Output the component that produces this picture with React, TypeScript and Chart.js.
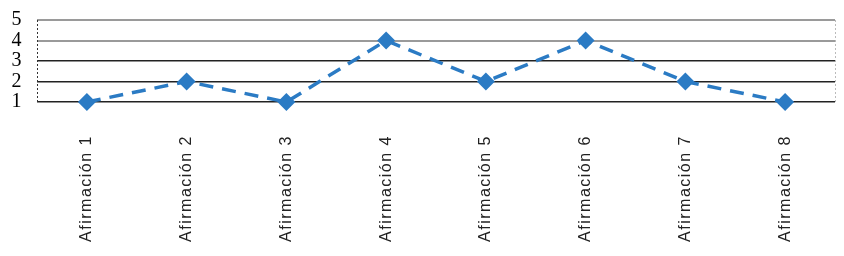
import React, { useEffect, useRef } from 'react';
import { Chart, registerables } from 'chart.js';

Chart.register(...registerables);

const categories = [
  'Afirmación 1',
  'Afirmación 2',
  'Afirmación 3',
  'Afirmación 4',
  'Afirmación 5',
  'Afirmación 6',
  'Afirmación 7',
  'Afirmación 8',
];
const values = [1, 2, 1, 4, 2, 4, 2, 1];
const yMin = 1;
const yMax = 5;

const BLUE = '#2b7bc4';

const framePlugin = {
  id: 'framePlugin',
  beforeDraw(chart: any) {
    (chart.ctx as any).letterSpacing = '1.5px';
  },
  afterDraw(chart: any) {
    const ctx = chart.ctx;
    (ctx as any).letterSpacing = '0px';
    const { left, right, top, bottom } = chart.chartArea;
    ctx.save();
    ctx.lineWidth = 1;
    ctx.setLineDash([2, 2]);
    ctx.strokeStyle = '#bbbbbb';
    ctx.beginPath();
    ctx.moveTo(right + 0.5, top);
    ctx.lineTo(right + 0.5, bottom);
    ctx.stroke();
    ctx.strokeStyle = '#333333';
    ctx.beginPath();
    ctx.moveTo(left + 0.5, top);
    ctx.lineTo(left + 0.5, bottom);
    ctx.stroke();
    ctx.restore();
  },
};

export default function App() {
  const ref = useRef<HTMLCanvasElement | null>(null);

  useEffect(() => {
    document.body.style.margin = '0';
    const chart = new Chart(ref.current as HTMLCanvasElement, {
      type: 'line',
      data: {
        labels: categories,
        datasets: [
          {
            data: values,
            borderColor: BLUE,
            backgroundColor: BLUE,
            borderWidth: 3.5,
            borderDash: [14, 9],
            pointStyle: 'rectRot',
            pointRadius: 9,
            pointBorderWidth: 0,
            tension: 0,
            clip: false as any,
          },
        ],
      },
      options: {
        animation: false,
        responsive: false,
        maintainAspectRatio: false,
        layout: { padding: { top: 20, right: 8, left: 0, bottom: 0 } },
        plugins: { legend: { display: false }, tooltip: { enabled: false } },
        scales: {
          x: {
            type: 'category',
            offset: true,
            grid: { display: false },
            border: { display: false },
            ticks: {
              autoSkip: false,
              minRotation: 90,
              maxRotation: 90,
              padding: 25,
              color: '#222222',
              font: { family: 'Liberation Sans', size: 16 },
            },
            afterFit: (s: any) => {
              s.height = 154;
              s.paddingLeft = 0;
              s.paddingRight = 0;
            },
          },
          y: {
            min: yMin,
            max: yMax,
            ticks: {
              stepSize: 1,
              autoSkip: false,
              padding: 14,
              color: '#000000',
              font: { family: 'Liberation Serif', size: 20 },
            },
            grid: {
              drawTicks: false,
              color: (c: any) => (c.tick && c.tick.value >= 4 ? '#9a9a9a' : '#222222'),
              lineWidth: (c: any) => (c.tick && c.tick.value >= 4 ? 2 : 1.5),
            },
            border: { display: false },
            afterFit: (s: any) => {
              s.width = 37;
              s.paddingTop = 0;
              s.paddingBottom = 0;
            },
          },
        },
      },
      plugins: [framePlugin],
    });
    return () => chart.destroy();
  }, []);

  return (
    <div style={{ position: 'fixed', left: 0, top: 0, width: 844, height: 256 }}>
      <canvas ref={ref} width={844} height={256} style={{ width: 844, height: 256 }} />
    </div>
  );
}
